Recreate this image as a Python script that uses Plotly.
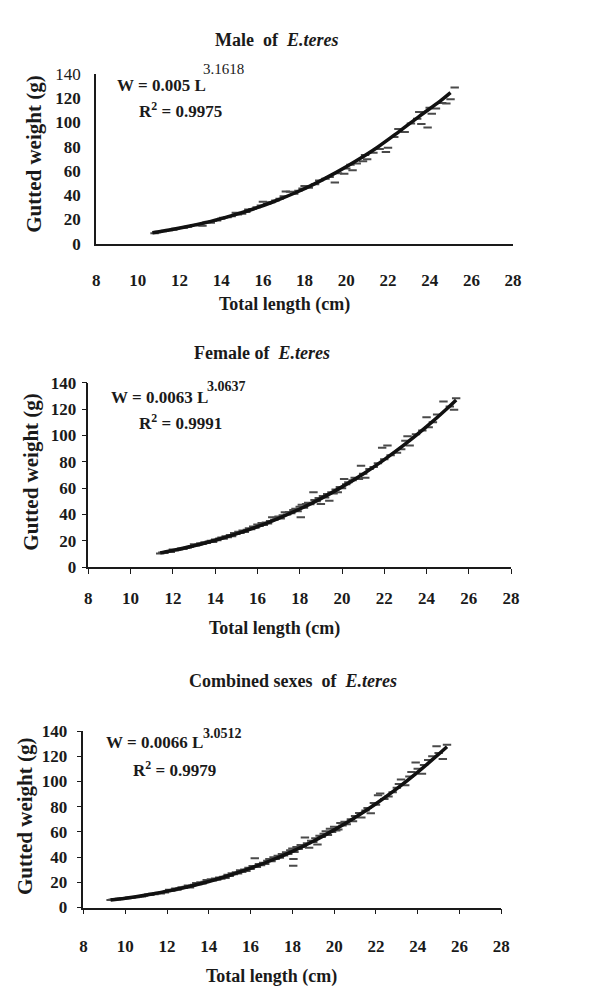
import plotly.graph_objects as go

# ---------------- data ----------------
ticks_x = [8, 10, 12, 14, 16, 18, 20, 22, 24, 26, 28]
ticks_y = [0, 20, 40, 60, 80, 100, 120, 140]

male_L = [10.8, 10.9, 11.0, 11.2, 11.3, 11.5, 11.7, 11.8, 12.0, 12.2, 12.4, 12.5, 12.7, 12.9, 13.0,
          13.1, 13.3, 13.4, 13.5, 13.6, 13.8, 14.0, 14.1, 14.3, 14.5, 14.7, 14.8, 15.0, 15.2, 15.3,
          15.5, 15.7, 15.9, 16.0, 16.2, 16.4, 16.6, 16.8, 17.0, 17.1, 17.3, 17.5, 17.7, 17.9, 18.0,
          18.2, 18.5, 18.7, 19.0, 19.2, 19.45, 19.6, 19.9, 20.0, 20.2, 20.3, 20.5, 20.8, 20.9, 21.0,
          21.3, 21.6, 21.9, 22.0, 22.3, 22.5, 22.8, 23.1, 23.4, 23.5, 23.6, 23.9, 24.0, 24.1, 24.3,
          24.6, 24.8, 25.0, 25.2]
male_W = [8.5, 9.3, 9.8, 10.1, 10.6, 11.0, 11.4, 12.3, 12.8, 13.0, 13.8, 14.5, 15.0, 15.6, 15.2,
          14.7, 17.5, 18.0, 17.2, 18.6, 19.0, 20.5, 21.2, 21.8, 22.6, 25.5, 24.0, 24.5, 26.0, 28.0,
          28.5, 30.0, 31.5, 34.5, 32.8, 34.0, 35.5, 37.0, 39.0, 43.0, 42.8, 41.0, 43.5, 45.5, 47.5,
          46.0, 49.0, 52.0, 53.5, 55.0, 50.4, 58.0, 57.5, 62.0, 65.0, 60.5, 66.0, 68.0, 73.0, 69.5,
          75.0, 78.0, 75.6, 79.0, 88.0, 94.6, 92.0, 99.0, 103.0, 108.5, 98.7, 95.7, 112.0, 107.0, 111.5,
          116.0, 115.5, 119.0, 128.7]
male_fit_L = [10.7, 11.5, 12.5, 13.5, 14.5, 15.5, 16.5, 17.5, 18.5, 19.5, 20.5, 21.5, 22.5, 23.5, 24.5, 25.0]
male_fit_W = [9.0, 11.2, 14.5, 18.3, 23.0, 28.3, 34.5, 41.5, 49.5, 58.5, 68.5, 79.5, 92.0, 105.0, 117.5, 124.5]

female_L = [11.4, 11.5, 11.6, 11.7, 11.8, 11.9, 12.0, 12.1, 12.2, 12.3, 12.4, 12.5, 12.6, 12.7, 12.8,
            12.9, 13.0, 13.1, 13.2, 13.3, 13.4, 13.5, 13.6, 13.7, 13.8, 13.9, 14.0, 14.1, 14.2, 14.3,
            14.4, 14.5, 14.6, 14.7, 14.8, 14.9, 15.0, 15.1, 15.2, 15.3, 15.4, 15.5, 15.6, 15.7, 15.8,
            15.9, 16.0, 16.1, 16.2, 16.3, 16.4, 16.5, 16.6, 16.7, 16.8, 16.9, 17.0, 17.1, 17.2, 17.3,
            17.4, 17.5, 17.6, 17.7, 17.8, 17.9, 18.0, 18.05, 18.1, 18.2, 18.3, 18.4, 18.5, 18.65, 18.7,
            18.8, 18.9, 19.0, 19.1, 19.2, 19.3, 19.4, 19.5, 19.6, 19.7, 19.8, 19.9, 20.0, 20.1, 20.2,
            20.3, 20.5, 20.6, 20.8, 20.9, 21.0, 21.1, 21.3, 21.5, 21.7, 21.9, 22.0, 22.15, 22.3, 22.6,
            22.8, 23.0, 23.1, 23.2, 23.5, 23.8, 24.0, 24.1, 24.3, 24.5, 24.8, 25.1, 25.3, 25.4]
female_W = [10.5, 11.2, 10.8, 11.6, 12.0, 11.5, 13.5, 12.6, 13.0, 13.4, 14.2, 13.8, 14.6, 15.0, 15.5,
            16.2, 17.5, 16.4, 17.0, 18.2, 17.6, 19.0, 18.4, 19.5, 20.0, 19.2, 21.0, 20.4, 21.8, 22.5,
            21.6, 23.5, 22.8, 24.5, 23.6, 26.0, 25.2, 27.0, 26.0, 27.8, 26.8, 28.5, 29.5, 28.8, 31.0,
            30.0, 32.5, 31.2, 33.5, 32.0, 34.0, 33.2, 35.0, 38.0, 36.0, 37.5, 38.5, 37.0, 39.5, 41.8,
            40.0, 42.0, 41.0, 43.5, 44.4, 42.5, 46.0, 38.0, 47.5, 45.2, 48.0, 49.0, 47.8, 57.0, 51.0,
            50.0, 52.5, 48.0, 54.0, 53.0, 55.5, 50.5, 57.0, 56.0, 59.0, 57.0, 61.0, 60.0, 67.0, 63.0,
            64.5, 66.0, 68.0, 67.0, 77.0, 71.0, 68.0, 74.5, 76.0, 79.0, 90.7, 82.0, 92.5, 85.0, 87.0,
            89.5, 96.0, 99.5, 92.5, 101.0, 103.8, 113.8, 106.3, 110.0, 116.0, 125.8, 122.0, 119.5, 128.3]
female_fit_L = [11.4, 12, 13, 14, 15, 16, 17, 18, 19, 20, 21, 22, 23, 24, 25, 25.4]
female_fit_W = [10.9, 12.8, 16.3, 20.5, 25.3, 30.8, 37.1, 44.2, 52.1, 61.0, 70.8, 81.7, 93.6, 106.7, 120.9, 127.0]

comb_L = [9.3, 9.4, 9.5, 9.6, 9.7, 9.8, 9.9, 10.0, 10.1, 10.2, 10.3, 10.4, 10.5, 10.6, 10.7,
          10.8, 10.9, 11.0, 11.1, 11.2, 11.3, 11.4, 11.5, 11.6, 11.7, 11.8, 11.9, 12.0, 12.1, 12.2,
          12.3, 12.4, 12.5, 12.6, 12.7, 12.8, 12.9, 13.0, 13.1, 13.2, 13.3, 13.4, 13.5, 13.6, 13.7,
          13.8, 13.9, 14.0, 14.1, 14.2, 14.3, 14.4, 14.5, 14.6, 14.7, 14.8, 14.9, 15.0, 15.1, 15.2,
          15.3, 15.4, 15.5, 15.6, 15.7, 15.8, 15.9, 16.0, 16.1, 16.2, 16.3, 16.4, 16.5, 16.6, 16.7,
          16.8, 16.9, 17.0, 17.1, 17.2, 17.3, 17.4, 17.5, 17.6, 17.7, 17.8, 17.9, 18.0, 18.04, 18.05,
          18.1, 18.2, 18.3, 18.4, 18.5, 18.6, 18.7, 18.8, 18.9, 19.0, 19.1, 19.2, 19.3, 19.4, 19.5,
          19.6, 19.7, 19.8, 19.9, 20.0, 20.1, 20.2, 20.3, 20.4, 20.5, 20.6, 20.8, 20.9, 21.0, 21.2,
          21.3, 21.5, 21.6, 21.75, 21.9, 22.0, 22.1, 22.2, 22.4, 22.6, 22.8, 23.0, 23.1, 23.2, 23.4,
          23.6, 23.7, 23.9, 24.0, 24.2, 24.3, 24.5, 24.7, 24.9, 25.0, 25.2, 25.4]
comb_W = [6.0, 6.3, 6.6, 6.4, 6.9, 7.0, 7.2, 7.4, 7.3, 8.0, 7.8, 8.3, 8.1, 8.6, 9.0,
          8.8, 9.4, 9.9, 10.3, 10.0, 11.0, 10.6, 11.4, 11.8, 11.2, 12.4, 12.0, 13.0, 14.2, 13.4,
          13.8, 15.0, 14.2, 15.2, 16.0, 15.4, 16.5, 17.5, 15.8, 17.2, 18.0, 19.5, 18.4, 20.0, 19.0,
          20.5, 21.8, 21.0, 22.5, 21.4, 23.0, 22.0, 23.8, 22.8, 24.5, 23.5, 26.0, 25.0, 27.2, 26.4,
          28.0, 27.0, 29.5, 28.2, 30.2, 29.0, 31.5, 30.5, 33.0, 39.0, 32.2, 34.5, 33.5, 35.5, 34.6,
          37.2, 38.5, 36.8, 39.8, 38.5, 41.0, 39.5, 42.5, 41.2, 43.8, 42.5, 45.5, 46.8, 33.2, 38.4,
          44.0, 48.0, 46.5, 49.5, 48.0, 55.5, 51.0, 47.5, 53.0, 52.0, 55.0, 50.0, 57.0, 56.0, 58.5,
          60.5, 57.5, 62.5, 60.0, 64.0, 61.0, 61.8, 67.0, 65.0, 68.0, 66.0, 70.0, 68.5, 72.5, 75.0,
          71.5, 77.0, 79.0, 74.8, 83.0, 81.5, 89.0, 90.4, 86.0, 88.0, 91.5, 95.0, 98.0, 101.5, 97.0,
          104.0, 107.5, 115.0, 110.0, 106.0, 113.0, 117.0, 120.0, 128.0, 122.5, 117.7, 129.0]
comb_fit_L = [9.3, 10, 11, 12, 13, 14, 15, 16, 17, 18, 19, 20, 21, 22, 23, 24, 25, 25.4]
comb_fit_W = [6.0, 7.4, 9.9, 13.0, 16.5, 20.7, 25.6, 31.2, 37.5, 44.6, 52.6, 61.6, 71.4, 82.3, 94.3, 107.4, 121.6, 127.5]

# ---------------- layout helpers ----------------
FW, FH = 609, 988
FONT = "Liberation Serif"
def fx(p): return p / FW
def fy(p): return 1 - p / FH

panels = [
    dict(data=(male_L, male_W), fit=(male_fit_L, male_fit_W),
         x0=86, x1=512, ybot=231, ytop=58, lw=2, ticks="", tl=0, xstand=20, ystand=10,
         title="<b>Male  of  <i>E.teres</i></b>", tpos=(270, 23),
         xt=(278, 293), yt=(23, 140),
         eq="<b>W = 0.005 L</b>", eqpos=(105, 70), ex="3.1618", expos=(193, 53), exw="normal", exs=15,
         r2="<b>R<sup>2</sup> = 0.9975</b>", r2pos=(128, 95), light140=True),
    dict(data=(female_L, female_W), fit=(female_fit_L, female_fit_W),
         x0=78, x1=510, ybot=561, ytop=373, lw=1.5, ticks="outside", tl=5, xstand=10, ystand=2,
         title="<b>Female of  <i>E.teres</i></b>", tpos=(255, 343),
         xt=(268, 623), yt=(20, 464),
         eq="<b>W = 0.0063 L</b>", eqpos=(99, 388), ex="3.0637", expos=(197, 377), exw="bold", exs=14,
         r2="<b>R<sup>2</sup> = 0.9991</b>", r2pos=(128, 413), light140=False),
    dict(data=(comb_L, comb_W), fit=(comb_fit_L, comb_fit_W),
         x0=73, x1=500, ybot=908, ytop=728, lw=1.5, ticks="outside", tl=5, xstand=17, ystand=6,
         title="<b>Combined sexes  of  <i>E.teres</i></b>", tpos=(287, 677),
         xt=(265, 978), yt=(14, 815),
         eq="<b>W = 0.0066 L</b>", eqpos=(94, 740), ex="3.0512", expos=(193, 731), exw="bold", exs=14,
         r2="<b>R<sup>2</sup> = 0.9979</b>", r2pos=(122, 767), light140=False),
]

fig = go.Figure()
annotations = []
for i, p in enumerate(panels, start=1):
    xa = "x" if i == 1 else f"x{i}"
    ya = "y" if i == 1 else f"y{i}"
    L, Wt = p["data"]
    fig.add_trace(go.Scatter(x=L, y=Wt, mode="markers", xaxis=xa, yaxis=ya,
                             marker=dict(symbol="line-ew", size=6, color="#444444",
                                         line=dict(width=2, color="#4a4a4a")),
                             showlegend=False, hoverinfo="skip"))
    fL, fW = p["fit"]
    fig.add_trace(go.Scatter(x=fL, y=fW, mode="lines", xaxis=xa, yaxis=ya,
                             line=dict(color="#111111", width=3.5, shape="spline"),
                             showlegend=False, hoverinfo="skip"))
    if p["light140"]:
        ytext = [f"<b>{v}</b>" for v in ticks_y[:-1]] + [str(ticks_y[-1])]
        yweight = "normal"
    else:
        ytext = [str(v) for v in ticks_y]
        yweight = "bold"
    axis_common = dict(showline=True, linecolor="#1a1a1a", linewidth=p["lw"], showgrid=False,
                       zeroline=False, ticks=p["ticks"], ticklen=p["tl"], tickcolor="#1a1a1a",
                       tickwidth=1)
    fig.layout[f"xaxis{'' if i == 1 else i}"] = dict(
        domain=[fx(p["x0"]), fx(p["x1"])], anchor=ya, range=[8, 28],
        tickvals=ticks_x, ticktext=[str(v) for v in ticks_x],
        tickfont=dict(family=FONT, size=17, color="#1a1a1a", weight="bold"),
        ticklabelstandoff=p["xstand"], **axis_common)
    fig.layout[f"yaxis{'' if i == 1 else i}"] = dict(
        domain=[fy(p["ybot"]), fy(p["ytop"])], anchor=xa, range=[0, 140],
        tickvals=ticks_y, ticktext=ytext,
        tickfont=dict(family=FONT, size=17, color="#1a1a1a", weight=yweight),
        ticklabelstandoff=p["ystand"], **axis_common)

    def ann(text, pos, size, anchor="center", angle=0, weight="bold"):
        annotations.append(dict(text=text, x=fx(pos[0]), y=fy(pos[1]), xref="paper", yref="paper",
                                xanchor=anchor, yanchor="middle", showarrow=False, textangle=angle,
                                font=dict(family=FONT, size=size, color="#1a1a1a", weight=weight)))
    ann(p["title"], p["tpos"], 18)
    ann("<b>Total length (cm)</b>", p["xt"], 18)
    ann("<b>Gutted weight (g)</b>", p["yt"], 21, angle=-90)
    ann(p["eq"], p["eqpos"], 17, anchor="left")
    ann(p["ex"], p["expos"], p["exs"], anchor="left", weight=p["exw"])
    ann(p["r2"], p["r2pos"], 17, anchor="left")

fig.update_layout(width=FW, height=FH, autosize=False, margin=dict(l=0, r=0, t=0, b=0),
                  paper_bgcolor="white", plot_bgcolor="white", annotations=annotations,
                  showlegend=False)
fig.write_html("out.html")
